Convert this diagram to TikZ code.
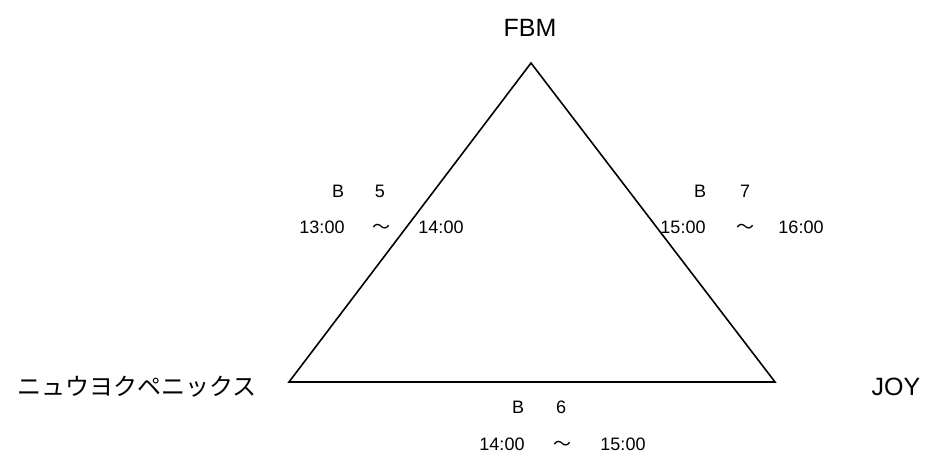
\documentclass[tikz,border=0pt]{standalone}
\usepackage{fontspec}
\setmainfont{Liberation Sans}
\newfontfamily\jp{Noto Sans CJK JP}
\begin{document}
\begin{tikzpicture}[x=1pt,y=-1pt,
  big/.style={font=\fontsize{25}{28}\selectfont, inner sep=0pt, anchor=base},
  jpbig/.style={font=\jp\fontsize{24}{28}\selectfont, inner sep=0pt, anchor=base},
  small/.style={font=\fontsize{18}{20}\selectfont, inner sep=0pt, anchor=base},
  tl/.style={font=\jp\fontsize{18}{20}\selectfont, inner sep=0pt, anchor=base},
  edge/.style={line width=1.6pt, line join=miter}]
\useasboundingbox (0,0) rectangle (943,456);
\coordinate (top) at (531,63);
\coordinate (bl) at (289,382);
\coordinate (br) at (775,382);
\draw[edge] (top) -- (bl) -- (br) -- cycle;
\node[big] (fbm) at (530,36) {FBM};
\node[big] (joy) at (896,395) {JOY};
\node[jpbig] (nyu) at (137,395) {ニュウヨクペニックス};
% B5
\node[small] (b5a) at (338,197) {B};
\node[small] (b5b) at (380,197) {5};
\node[small] (t5a) at (322,233) {13:00};
\node[tl] (t5b) at (381,233) {～};
\node[small] (t5c) at (441,233) {14:00};
% B7
\node[small] (b7a) at (700,197) {B};
\node[small] (b7b) at (745,197) {7};
\node[small] (t7a) at (683,233) {15:00};
\node[tl] (t7b) at (745,233) {～};
\node[small] (t7c) at (801,233) {16:00};
% B6
\node[small] (b6a) at (518,413) {B};
\node[small] (b6b) at (561,413) {6};
\node[small] (t6a) at (502,450) {14:00};
\node[tl] (t6b) at (562,450) {～};
\node[small] (t6c) at (623,450) {15:00};
\end{tikzpicture}
\end{document}
